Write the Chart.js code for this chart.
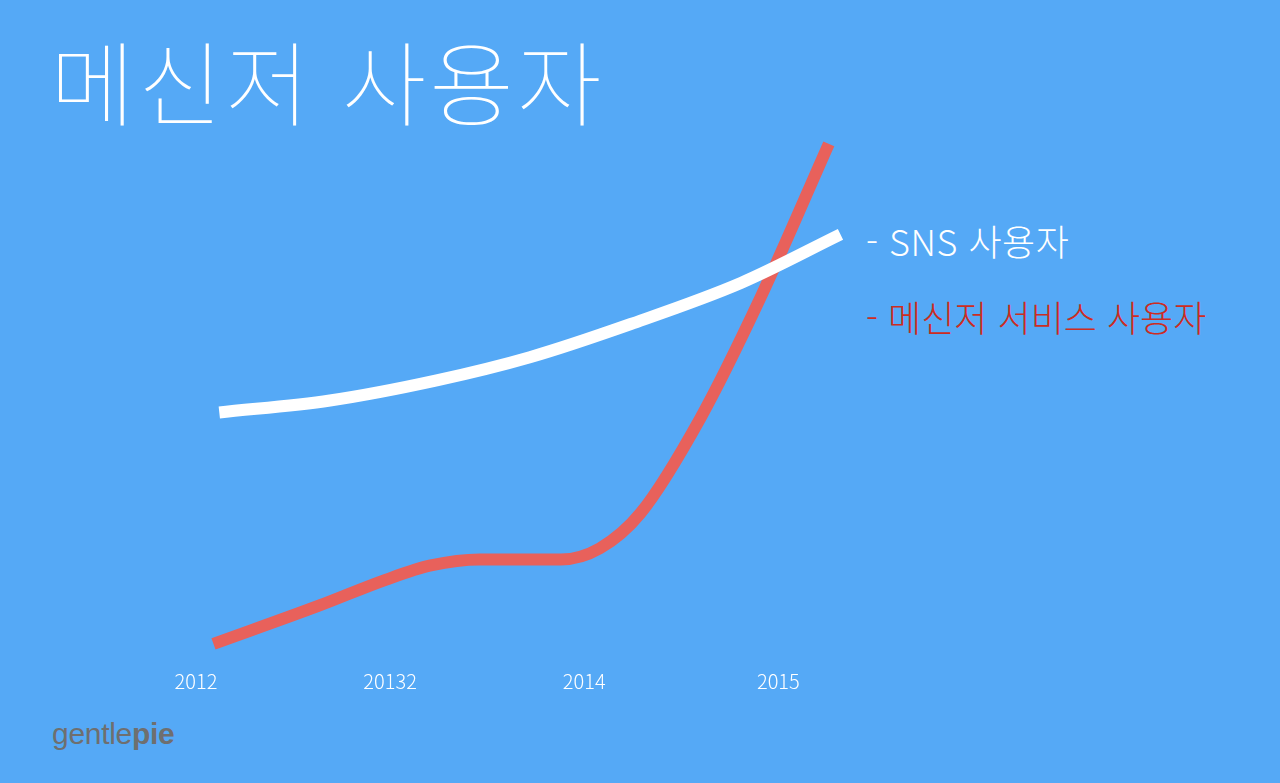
<!DOCTYPE html>
<html lang="ko">
<head>
<meta charset="utf-8">
<script src="https://cdn.jsdelivr.net/npm/chart.js@4.4.1/dist/chart.umd.min.js"></script>
<style>
  html, body { margin: 0; padding: 0; }
  body {
    width: 1280px; height: 783px; overflow: hidden; position: relative;
    background: #55a9f6;
    font-family: "Noto Sans CJK KR", "Noto Sans", sans-serif;
  }
  #activityChart { position: absolute; left: 0; top: 0; }
  .title {
    position: absolute; left: 50px; top: 12px; margin: 0;
    color: #fff; font-size: 92px; font-weight: 100; letter-spacing: 3px;
  }
  .legend { position: absolute; left: 866px; font-size: 36px; font-weight: 300; white-space: nowrap; }
  .legend.sns { top: 214px; color: #fff; letter-spacing: 0.5px; }
  .legend.msg { top: 290px; color: #cc2c22; }
  .brand {
    position: absolute; left: 52px; top: 717px; color: #6f6f6f;
    font-family: "Liberation Sans", sans-serif; font-size: 30px; letter-spacing: -0.3px;
  }
  .brand b { font-weight: 700; }
  .brand span { font-weight: 300; }
</style>
</head>
<body>
<h1 class="title">메신저 사용자</h1>
<div class="legend sns">- SNS 사용자</div>
<div class="legend msg">- 메신저 서비스 사용자</div>
<div class="brand"><span>gentle</span><b>pie</b></div>
<canvas id="activityChart" width="1280" height="783"></canvas>
<script>
// Подписи оси X (в оригинале опечатка "20132" - оставляем как есть)
const tickYears = [2012, 2013, 2014, 2015];
const tickLabels = ['2012', '20132', '2014', '2015'];

// SNS 사용자 - белая линия
const snsYears = [2012.12, 2012.69, 2013.24, 2013.72, 2014.24, 2014.81, 2015.32];
const snsUsers = [48, 50.4, 54.4, 59, 65.6, 73.8, 83.4];

// 메신저 서비스 사용자 - красная линия
const msgYears = [2012.09, 2012.64, 2012.98, 2013.21, 2013.46, 2013.88, 2014.08, 2014.29, 2014.6, 2014.91, 2015.26];
const msgUsers = [2, 9.7, 14.8, 17.6, 18.8, 18.8, 21, 28, 47, 71, 101.4];

function toPoints(xs, ys) {
    return xs.map((x, i) => ({ x: x, y: ys[i] }));
}

function renderChart() {
    const ctx = document.getElementById('activityChart').getContext('2d');

    window.activityChart = new Chart(ctx, {
        type: 'line',
        data: {
            datasets: [{
                label: 'SNS 사용자',
                data: toPoints(snsYears, snsUsers),
                borderColor: '#ffffff',
                borderWidth: 12,
                borderCapStyle: 'butt',
                cubicInterpolationMode: 'monotone',
                pointRadius: 0,
                fill: false
            }, {
                label: '메신저 서비스 사용자',
                data: toPoints(msgYears, msgUsers),
                borderColor: '#e8615b',
                borderWidth: 12,
                borderCapStyle: 'butt',
                cubicInterpolationMode: 'monotone',
                pointRadius: 0,
                fill: false
            }]
        },
        options: {
            responsive: false,
            animation: false,
            layout: { padding: { left: 196, right: 424, top: 0, bottom: 75 } },
            scales: {
                x: {
                    type: 'linear',
                    min: 2012,
                    max: 2015.4,
                    afterBuildTicks: (axis) => { axis.ticks = tickYears.map(v => ({ value: v })); },
                    grid: { display: false, drawTicks: false },
                    border: { display: false },
                    ticks: {
                        color: '#ffffff',
                        padding: 15,
                        maxRotation: 0,
                        font: { family: '"Noto Sans CJK KR", "Noto Sans", sans-serif', size: 20, weight: 300 },
                        callback: (v) => tickLabels[tickYears.indexOf(v)]
                    }
                },
                y: {
                    display: false,
                    min: 0,
                    max: 130
                }
            },
            plugins: {
                legend: { display: false },
                tooltip: { enabled: false }
            }
        }
    });
}

renderChart();
</script>
</body>
</html>
